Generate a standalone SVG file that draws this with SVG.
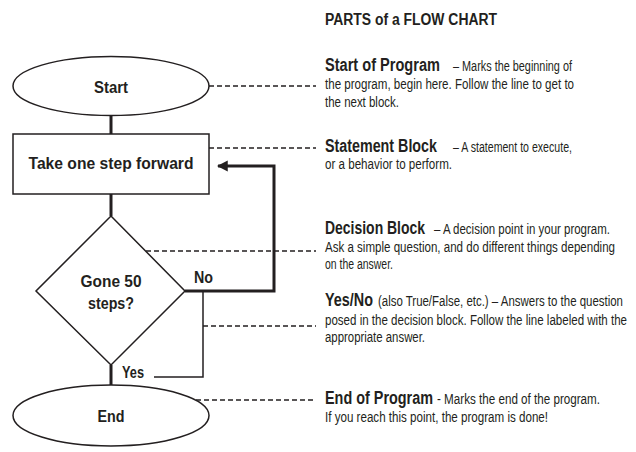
<svg xmlns="http://www.w3.org/2000/svg" width="636" height="452" viewBox="0 0 636 452">
<style>
.shape{fill:#fff;stroke:#231f20;stroke-width:1.5}
.flow{fill:none;stroke:#231f20;stroke-width:3}
.thin{fill:none;stroke:#231f20;stroke-width:1.5}
.dash{fill:none;stroke:#231f20;stroke-width:1.3;stroke-dasharray:5 3}
text{font-family:"Liberation Sans",Arial,sans-serif;fill:#231f20}
.nb{font-weight:bold;font-size:17px;text-anchor:middle}
.lb{font-weight:bold;font-size:16px}
.hb{font-weight:bold;font-size:17.5px}
.tr{font-size:14px}
</style>
<defs>
<marker id="arr" viewBox="0 0 10 10" refX="9" refY="5" markerWidth="3.6" markerHeight="3.8" orient="auto" markerUnits="strokeWidth">
<path d="M0,0 L10,5 L0,10 Z" fill="#231f20"/>
</marker>
</defs>
<rect width="636" height="452" fill="#fff"/>
<g id="connectors">
<line class="flow" x1="111" y1="116" x2="111" y2="134"/>
<line class="flow" x1="111" y1="194" x2="111" y2="216"/>
<line class="flow" x1="111" y1="365" x2="111" y2="385"/>
<path class="flow" d="M185,291 H274 V166 H218" marker-end="url(#arr)"/>
<path class="thin" d="M203,291 V377 H154"/>
<line class="dash" x1="209" y1="86" x2="316" y2="86"/>
<line class="dash" x1="209" y1="148" x2="316" y2="148"/>
<line class="dash" x1="146" y1="251" x2="316" y2="251"/>
<line class="dash" x1="203" y1="326" x2="316" y2="326"/>
<line class="dash" x1="196" y1="400" x2="316" y2="400"/>
<text class="lb" x="194" y="283" textLength="19" lengthAdjust="spacingAndGlyphs">No</text>
<text class="lb" x="122" y="378" textLength="22" lengthAdjust="spacingAndGlyphs">Yes</text>
</g>
<g id="start">
<ellipse class="shape" cx="111" cy="86" rx="98" ry="29.5"/>
<text class="nb" x="111" y="93" textLength="34" lengthAdjust="spacingAndGlyphs">Start</text>
</g>
<g id="step">
<rect class="shape" x="13" y="134" width="196" height="60"/>
<text class="nb" x="111" y="169" textLength="165" lengthAdjust="spacingAndGlyphs">Take one step forward</text>
</g>
<g id="decision">
<polygon class="shape" points="111,216 185,291 111,365 36,291"/>
<text class="nb" x="111" y="287" textLength="61" lengthAdjust="spacingAndGlyphs">Gone 50</text>
<text class="nb" x="111" y="309" textLength="46" lengthAdjust="spacingAndGlyphs">steps?</text>
</g>
<g id="end">
<ellipse class="shape" cx="111" cy="415.5" rx="98" ry="30.5"/>
<text class="nb" x="111" y="422" textLength="27" lengthAdjust="spacingAndGlyphs">End</text>
</g>
<g id="legend" transform="translate(325 0) scale(0.82 1)">
<text class="lb" x="0" y="25" textLength="209.8" lengthAdjust="spacingAndGlyphs">PARTS of a FLOW CHART</text>
<text class="hb" x="0" y="71" textLength="140.2" lengthAdjust="spacingAndGlyphs">Start of Program</text>
<text class="tr" x="156.1" y="71" textLength="145.1" lengthAdjust="spacingAndGlyphs">– Marks the beginning of</text>
<text class="tr" x="0" y="89" textLength="303.7" lengthAdjust="spacingAndGlyphs">the program, begin here. Follow the line to get to</text>
<text class="tr" x="0" y="107" textLength="90.2" lengthAdjust="spacingAndGlyphs">the next block.</text>
<text class="hb" x="0" y="152" textLength="136.6" lengthAdjust="spacingAndGlyphs">Statement Block</text>
<text class="tr" x="156.1" y="152" textLength="145.1" lengthAdjust="spacingAndGlyphs">– A statement to execute,</text>
<text class="tr" x="0" y="169" textLength="154.9" lengthAdjust="spacingAndGlyphs">or a behavior to perform.</text>
<text class="hb" x="0" y="234" textLength="122" lengthAdjust="spacingAndGlyphs">Decision Block</text>
<text class="tr" x="132.9" y="234" textLength="214.6" lengthAdjust="spacingAndGlyphs">– A decision point in your program.</text>
<text class="tr" x="0" y="252" textLength="353.7" lengthAdjust="spacingAndGlyphs">Ask a simple question, and do different things depending</text>
<text class="tr" x="0" y="269" textLength="82.9" lengthAdjust="spacingAndGlyphs">on the answer.</text>
<text class="hb" x="0" y="306" textLength="58.5" lengthAdjust="spacingAndGlyphs">Yes/No</text>
<text class="tr" x="64.6" y="306" textLength="298.8" lengthAdjust="spacingAndGlyphs">(also True/False, etc.) – Answers to the question</text>
<text class="tr" x="0" y="325" textLength="368.3" lengthAdjust="spacingAndGlyphs">posed in the decision block. Follow the line labeled with the</text>
<text class="tr" x="0" y="342" textLength="122" lengthAdjust="spacingAndGlyphs">appropriate answer.</text>
<text class="hb" x="0" y="404" textLength="131.7" lengthAdjust="spacingAndGlyphs">End of Program</text>
<text class="tr" x="136.6" y="404" textLength="198.8" lengthAdjust="spacingAndGlyphs">-  Marks the end of the program.</text>
<text class="tr" x="0" y="422" textLength="272" lengthAdjust="spacingAndGlyphs">If you reach this point, the program is done!</text>
</g>
</svg>
